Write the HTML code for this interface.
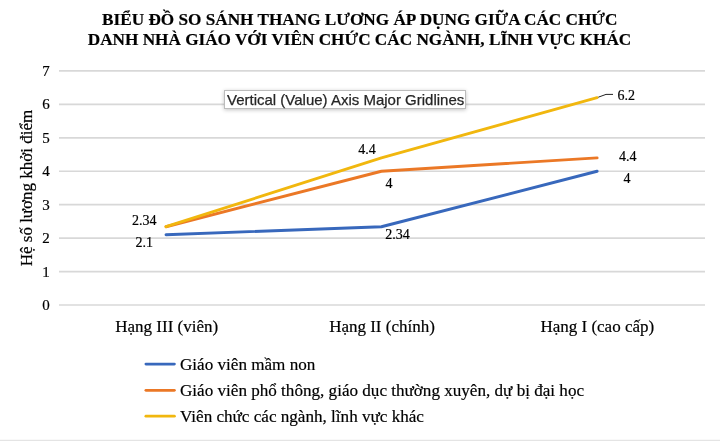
<!DOCTYPE html>
<html><head><meta charset="utf-8">
<style>
html,body{margin:0;padding:0;background:#fff;}
body{width:720px;height:441px;overflow:hidden;position:relative;}
svg{position:absolute;left:0;top:0;will-change:transform;}
text{font-family:"Liberation Serif",serif;fill:#000;stroke:#000;stroke-width:0.2px;}
.tip{position:absolute;left:224px;top:90px;width:242px;height:18.6px;box-sizing:border-box;border:1px solid #bcbcbc;background:#fff;
 box-shadow:0 1px 4px rgba(0,0,0,0.24);font-family:"Liberation Sans",sans-serif;font-size:15px;line-height:18px;color:#262626;white-space:nowrap;padding-left:2px;-webkit-text-stroke:0.25px #262626;will-change:transform;}
.bot{position:absolute;left:0;top:439px;width:720px;height:2px;background:linear-gradient(#f9f9f9 50%,#e4e4e4 50%);}
</style></head><body>
<svg width="720" height="441" viewBox="0 0 720 441">
  <g font-weight="bold" font-size="17.2" text-anchor="middle">
    <text x="359.8" y="25.4">BIỂU ĐỒ SO SÁNH THANG LƯƠNG ÁP DỤNG GIỮA CÁC CHỨC</text>
    <text x="359.5" y="45.3">DANH NHÀ GIÁO VỚI VIÊN CHỨC CÁC NGÀNH, LĨNH VỰC KHÁC</text>
  </g>
  <g stroke="#d8d8d8" stroke-width="1.7">
    <line x1="59" y1="305.00" x2="705" y2="305.00"/>
    <line x1="59" y1="271.56" x2="705" y2="271.56"/>
    <line x1="59" y1="238.11" x2="705" y2="238.11"/>
    <line x1="59" y1="204.67" x2="705" y2="204.67"/>
    <line x1="59" y1="171.23" x2="705" y2="171.23"/>
    <line x1="59" y1="137.79" x2="705" y2="137.79"/>
    <line x1="59" y1="104.34" x2="705" y2="104.34"/>
    <line x1="59" y1="70.90" x2="705" y2="70.90"/>
  </g>
  <g font-size="15" text-anchor="end">
    <text x="49.8" y="310.00">0</text>
    <text x="49.8" y="276.56">1</text>
    <text x="49.8" y="243.11">2</text>
    <text x="49.8" y="209.67">3</text>
    <text x="49.8" y="176.23">4</text>
    <text x="49.8" y="142.79">5</text>
    <text x="49.8" y="109.34">6</text>
    <text x="49.8" y="75.90">7</text>
  </g>
  <text font-size="17" transform="translate(32.2,266.3) rotate(-90)">Hệ số lương khởi điểm</text>
  <g font-size="17" text-anchor="middle">
    <text x="166.7" y="332">Hạng III (viên)</text>
    <text x="382" y="332">Hạng II (chính)</text>
    <text x="597.3" y="332">Hạng I (cao cấp)</text>
  </g>
  <g fill="none" stroke-width="2.9" stroke-linecap="round" stroke-linejoin="round">
    <polyline stroke="#3868bc" points="166.0,234.77 381.4,226.74 597.1,171.23"/>
    <polyline stroke="#eb7826" points="166.0,226.74 381.4,171.23 597.1,157.85"/>
    <polyline stroke="#f1b70e" points="166.0,226.74 381.4,157.85 597.1,97.65"/>
  </g>
  <path d="M598.3,97.2 L606,94.4 L613,94.4" stroke="#222" stroke-width="1" fill="none"/>
  <g font-size="14">
    <text x="132" y="225">2.34</text>
    <text x="135.6" y="247.3">2.1</text>
    <text x="358.3" y="153.8">4.4</text>
    <text x="385.6" y="187.6">4</text>
    <text x="385.3" y="239">2.34</text>
    <text x="617.4" y="100">6.2</text>
    <text x="619.1" y="161">4.4</text>
    <text x="623.5" y="183">4</text>
  </g>
  <g stroke-width="2.8" stroke-linecap="round">
    <line x1="145.9" y1="364.1" x2="174.4" y2="364.1" stroke="#3868bc"/>
    <line x1="145.9" y1="390.3" x2="174.4" y2="390.3" stroke="#eb7826"/>
    <line x1="145.9" y1="416.2" x2="174.4" y2="416.2" stroke="#f1b70e"/>
  </g>
  <g font-size="17.1">
    <text x="180" y="369.6">Giáo viên mầm non</text>
    <text x="180" y="396.2">Giáo viên phổ thông, giáo dục thường xuyên, dự bị đại học</text>
    <text x="180" y="422.3">Viên chức các ngành, lĩnh vực khác</text>
  </g>
</svg>
<div class="tip">Vertical (Value) Axis Major Gridlines</div>
<div class="bot"></div>
</body></html>
